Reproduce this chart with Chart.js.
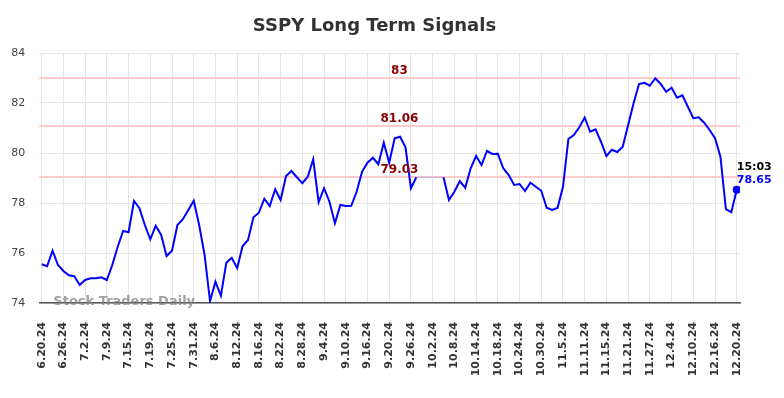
<!DOCTYPE html>
<html><head><meta charset="utf-8">
<script src="https://cdn.jsdelivr.net/npm/chart.js@4.4.1/dist/chart.umd.min.js"></script>
<style>html,body{margin:0;padding:0;background:#fff}#wrap{width:784px;height:398px}</style>
</head><body><div id="wrap"><canvas id="c" width="784" height="398"></canvas></div>
<script>
// trading days (categories)
const dates = [
'6.20.24','6.21.24','6.24.24','6.25.24','6.26.24','6.27.24','6.28.24',
'7.1.24','7.2.24','7.3.24','7.5.24','7.8.24','7.9.24','7.10.24','7.11.24','7.12.24','7.15.24','7.16.24','7.17.24','7.18.24','7.19.24','7.22.24','7.23.24','7.24.24','7.25.24','7.26.24','7.29.24','7.30.24','7.31.24',
'8.1.24','8.2.24','8.5.24','8.6.24','8.7.24','8.8.24','8.9.24','8.12.24','8.13.24','8.14.24','8.15.24','8.16.24','8.19.24','8.20.24','8.21.24','8.22.24','8.23.24','8.26.24','8.27.24','8.28.24','8.29.24','8.30.24',
'9.3.24','9.4.24','9.5.24','9.6.24','9.9.24','9.10.24','9.11.24','9.12.24','9.13.24','9.16.24','9.17.24','9.18.24','9.19.24','9.20.24','9.23.24','9.24.24','9.25.24','9.26.24','9.27.24','9.30.24',
'10.1.24','10.2.24','10.3.24','10.4.24','10.7.24','10.8.24','10.9.24','10.10.24','10.11.24','10.14.24','10.15.24','10.16.24','10.17.24','10.18.24','10.21.24','10.22.24','10.23.24','10.24.24','10.25.24','10.28.24','10.29.24','10.30.24','10.31.24',
'11.1.24','11.4.24','11.5.24','11.6.24','11.7.24','11.8.24','11.11.24','11.12.24','11.13.24','11.14.24','11.15.24','11.18.24','11.19.24','11.20.24','11.21.24','11.22.24','11.25.24','11.26.24','11.27.24','11.29.24',
'12.2.24','12.3.24','12.4.24','12.5.24','12.6.24','12.9.24','12.10.24','12.11.24','12.12.24','12.13.24','12.16.24','12.17.24','12.18.24','12.19.24','12.20.24'
];
// closing prices (null = missing, drawn as a faint bridge)
const closes = [
75.55,75.47,76.09,75.52,75.28,75.11,75.07,74.72,74.92,74.99,
74.99,75.03,74.92,75.52,76.25,76.88,76.83,78.08,77.79,77.12,
76.55,77.09,76.72,75.88,76.09,77.12,77.35,77.72,78.09,77.12,
75.92,74.08,74.85,74.29,75.61,75.81,75.39,76.28,76.52,77.43,
77.61,78.17,77.88,78.55,78.12,79.08,79.28,79.03,78.79,79.05,
79.75,78.03,78.59,78.05,77.19,77.92,77.88,77.89,78.45,79.25,
79.61,79.81,79.55,80.41,79.61,80.59,80.65,80.23,78.59,79.03,
null,null,null,null,79.03,78.12,78.45,78.88,78.61,79.39,
79.88,79.52,80.08,79.96,79.97,79.39,79.12,78.72,78.76,78.48,
78.81,78.65,78.49,77.81,77.72,77.80,78.65,80.56,80.72,81.03,
81.42,80.85,80.95,80.45,79.88,80.13,80.04,80.25,81.12,81.99,
82.76,82.81,82.69,82.99,82.76,82.45,82.61,82.21,82.31,81.85,
81.39,81.43,81.21,80.92,80.59,79.85,77.75,77.63,78.53
];
const tickEvery = 4;
const yTickValues = [74,76,78,80,82,84];
const signalLevels = [83, 81.06, 79.03];
const signalLabels = ['83', '81.06', '79.03'];
const lastTime = '15:03';
const lastLabel = '78.65';
const titleText = 'SSPY Long Term Signals';
const watermark = 'Stock Traders Daily';

const FONT = "'DejaVu Sans', sans-serif";
const lastIdx = closes.length - 1;
const points = closes.map((v, i) => ({x: i, y: v}));

const overlay = {
  id: 'overlay',
  beforeDatasetsDraw(chart) {
    const {ctx, chartArea: a, scales: {y}} = chart;
    ctx.save();
    ctx.strokeStyle = '#ffcccc';
    ctx.lineWidth = 2;
    signalLevels.forEach(v => {
      const py = Math.round(y.getPixelForValue(v));
      ctx.beginPath(); ctx.moveTo(a.left, py); ctx.lineTo(a.right, py); ctx.stroke();
    });
    ctx.restore();
  },
  afterDatasetsDraw(chart) {
    const {ctx, chartArea: a, scales: {x, y}} = chart;
    ctx.save();
    // signal labels
    ctx.font = 'bold 12px ' + FONT;
    ctx.fillStyle = '#8b0000';
    ctx.textAlign = 'center';
    ctx.textBaseline = 'middle';
    const lx = a.left + (a.right - a.left) * 0.514;
    signalLevels.forEach((v, k) => {
      ctx.fillText(signalLabels[k], lx, y.getPixelForValue(v) - 7.5);
    });
    // last point label
    const px = x.getPixelForValue(lastIdx), py = y.getPixelForValue(closes[lastIdx]);
    ctx.textAlign = 'left';
    ctx.font = 'bold 11px ' + FONT;
    ctx.fillStyle = '#000';
    ctx.fillText(lastTime, px, py - 23);
    ctx.fillStyle = '#0000ff';
    ctx.fillText(lastLabel, px, py - 10);
    // watermark
    ctx.font = 'bold 13px ' + FONT;
    ctx.fillStyle = 'rgba(130,130,130,0.75)';
    ctx.textAlign = 'left';
    ctx.fillText(watermark, a.left + 14, a.bottom - 1);
    // title
    ctx.font = 'bold 18px ' + FONT;
    ctx.fillStyle = '#333';
    ctx.textAlign = 'center';
    ctx.fillText(titleText, 374.5, 26);
    ctx.restore();
  }
};

new Chart(document.getElementById('c'), {
  type: 'line',
  data: {
    datasets: [{
      data: points,
      borderColor: '#0000ff',
      backgroundColor: '#0000ff',
      borderWidth: 2,
      tension: 0,
      spanGaps: true,
      pointRadius: ctx => ctx.dataIndex === lastIdx ? 4 : 0,
      pointHoverRadius: 0,
      pointBackgroundColor: '#0000ff',
      pointBorderWidth: 0,
      segment: {
        borderColor: ctx => (ctx.p0.skip || ctx.p1.skip || ctx.p1DataIndex - ctx.p0DataIndex > 1) ? 'rgba(120,150,255,0.6)' : undefined,
        borderWidth: ctx => (ctx.p0.skip || ctx.p1.skip || ctx.p1DataIndex - ctx.p0DataIndex > 1) ? 1 : undefined
      }
    }]
  },
  options: {
    responsive: false,
    animation: false,
    devicePixelRatio: 1,
    layout: {padding: {top: 53, right: 44, bottom: 0, left: 0}},
    plugins: {legend: {display: false}, tooltip: {enabled: false}, title: {display: false}},
    scales: {
      x: {
        type: 'linear',
        min: -0.44,
        max: 128.6,
        afterBuildTicks: s => { s.ticks = dates.map((d, i) => i).filter(i => i % tickEvery === 0).map(v => ({value: v})); },
        afterFit: s => { s.height = 95; },
        grid: {color: '#e6e6e6', lineWidth: 1, drawTicks: false},
        border: {display: true, color: '#555', width: 1.5},
        ticks: {
          autoSkip: false, minRotation: 90, maxRotation: 90, padding: 19,
          font: {family: FONT, size: 11, weight: 'bold'}, color: '#333',
          callback: v => dates[v]
        }
      },
      y: {
        min: 74, max: 84,
        afterBuildTicks: s => { s.ticks = yTickValues.map(v => ({value: v})); },
        afterFit: s => { s.width = 39.3; },
        grid: {color: '#e6e6e6', lineWidth: 1, drawTicks: false},
        border: {display: false},
        ticks: {padding: 14, font: {family: FONT, size: 11}, color: '#444'}
      }
    }
  },
  plugins: [overlay]
});
</script>
</body></html>
